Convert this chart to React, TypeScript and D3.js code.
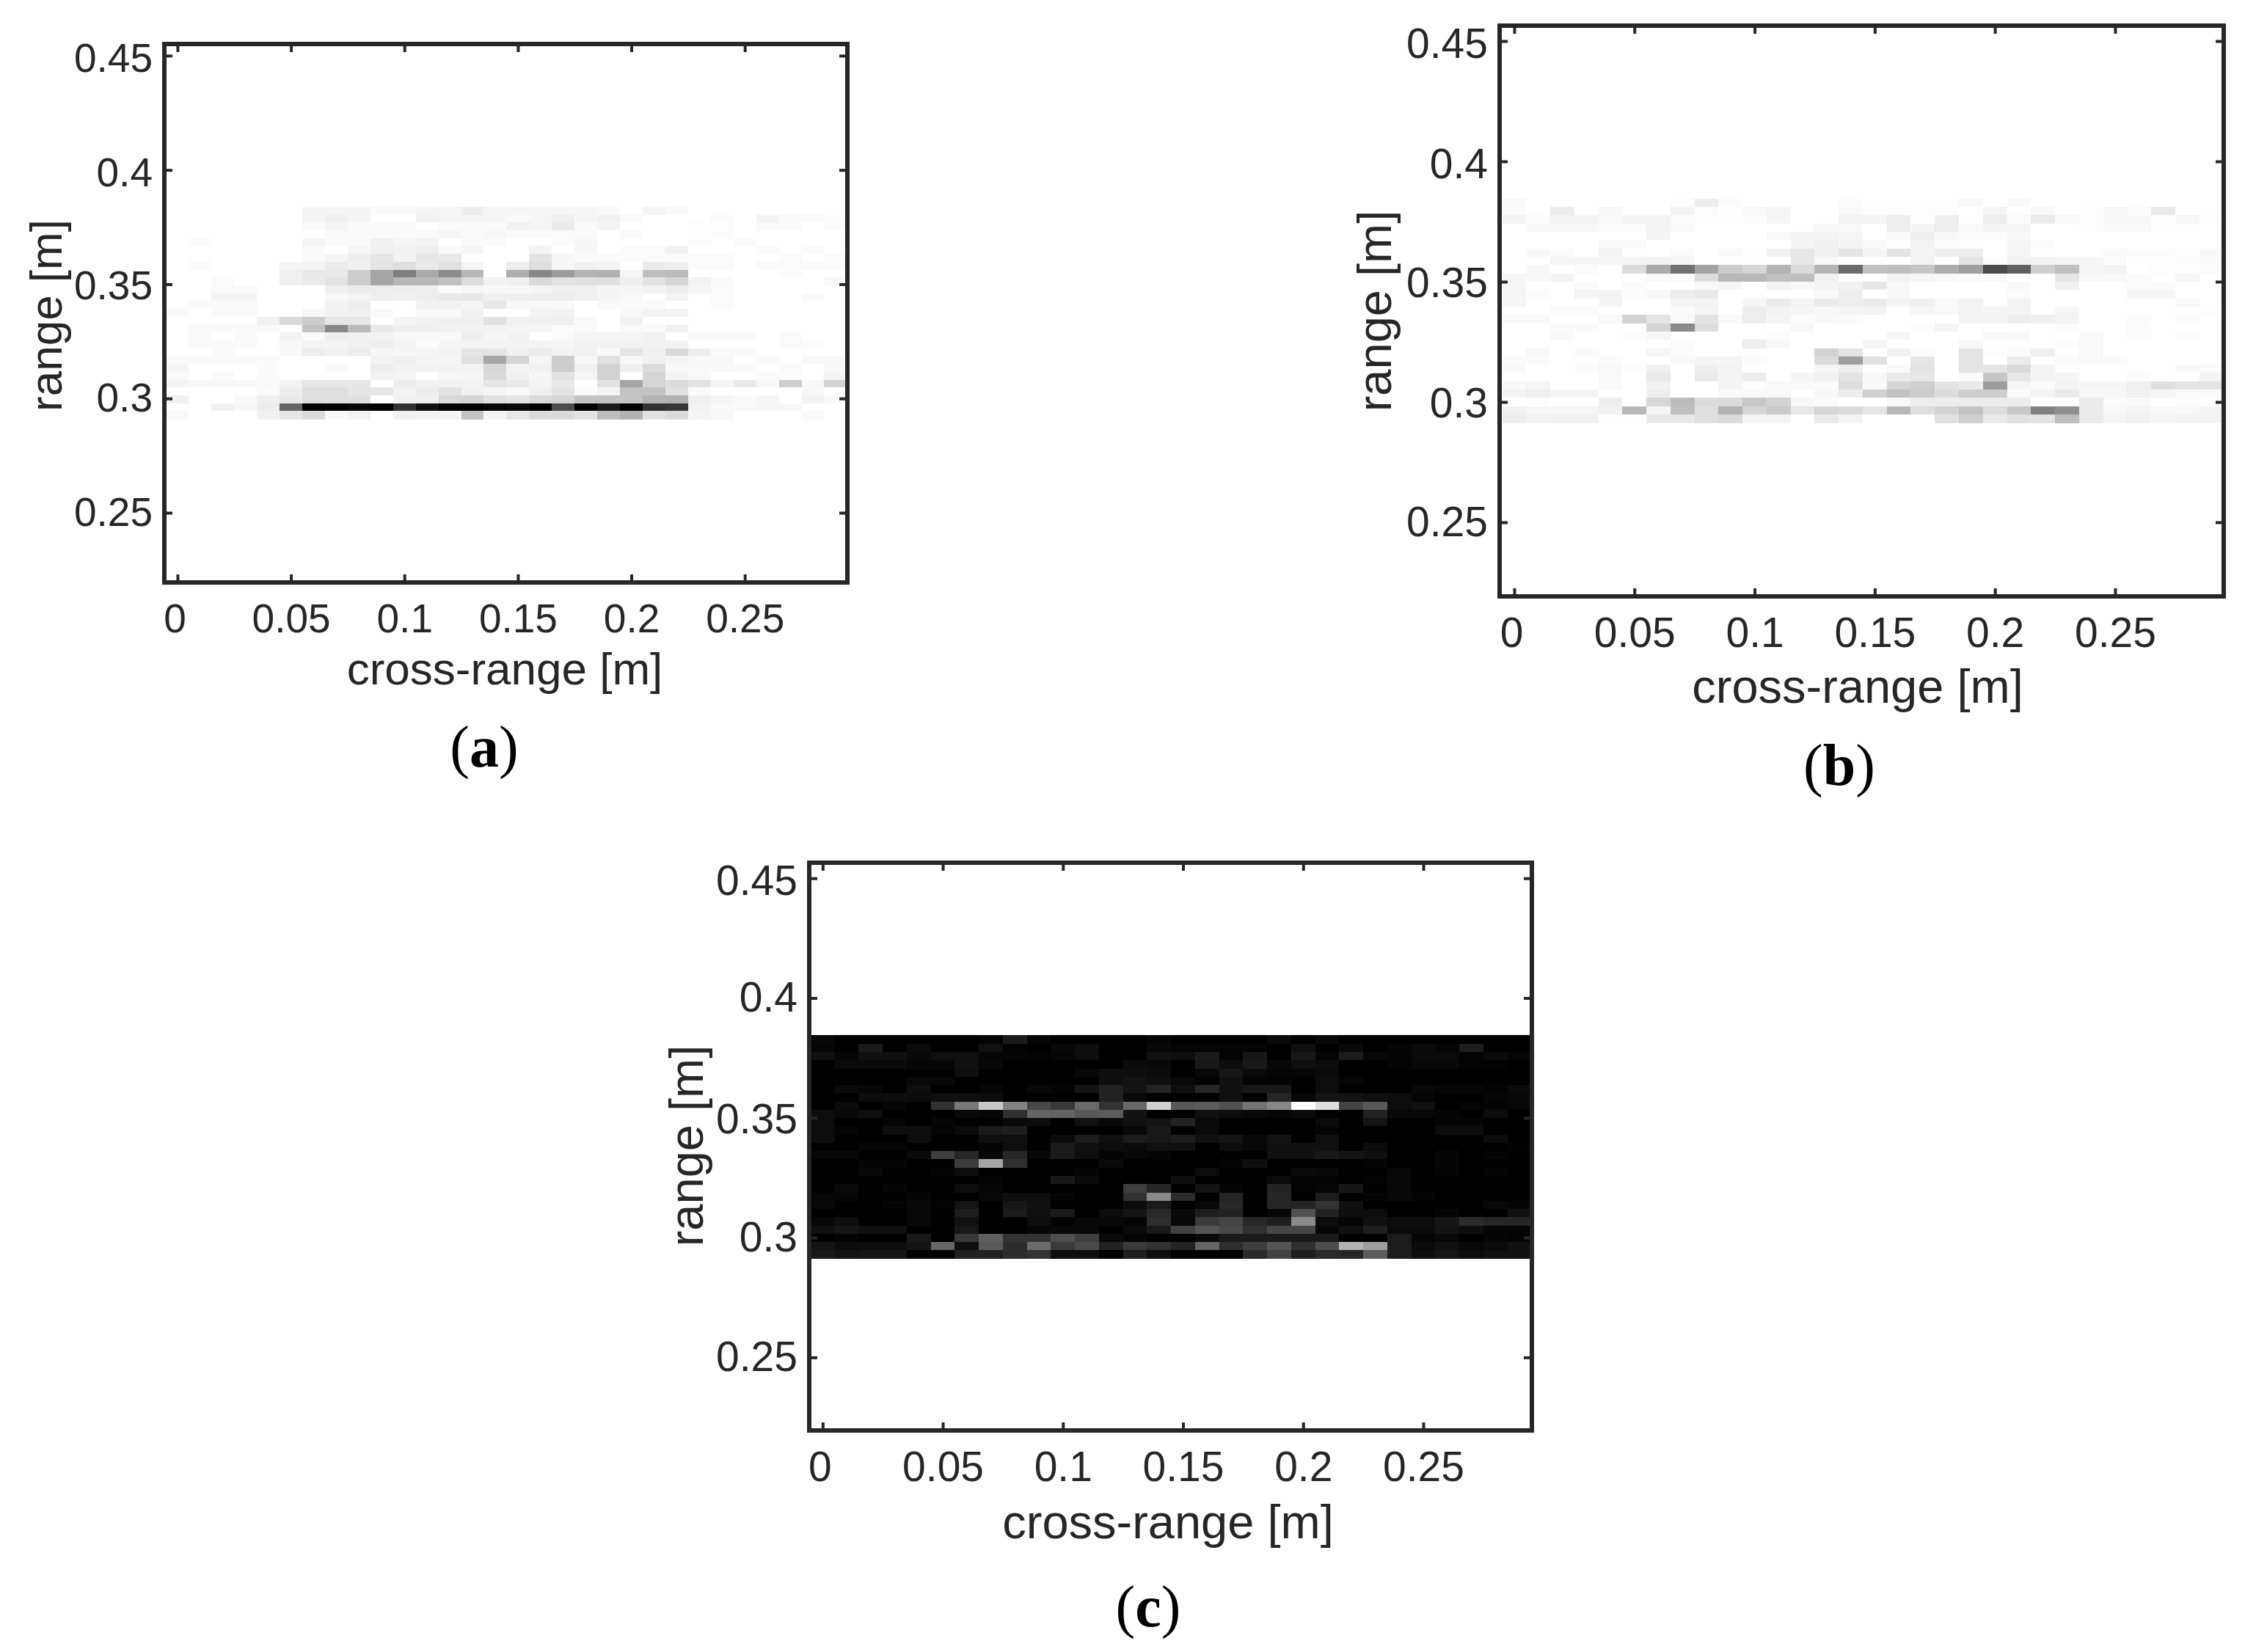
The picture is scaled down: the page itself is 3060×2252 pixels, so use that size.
import React, { useEffect, useRef } from 'react';
import * as d3 from 'd3';

const xTicks = [0, 0.05, 0.1, 0.15, 0.2, 0.25];
const yTicks = [0.25, 0.3, 0.35, 0.4, 0.45];
const crossRange = d3.range(30).map(i => i * 0.01);
const rangeBins = d3.range(27);

// magnitudes, darkness 0-255
const magnitudeA = [
  [0,0,0,0,0,0,10,10,10,5,5,9,9,18,9,9,9,9,9,5,0,10,5,0,0,0,0,0,0,0],
  [0,0,0,0,0,0,10,15,10,0,0,13,9,9,9,5,9,15,9,13,5,0,0,0,4,0,11,5,5,3],
  [0,0,0,0,0,0,5,10,5,5,5,0,5,5,5,12,9,20,5,10,0,0,0,3,3,0,5,5,0,4],
  [0,0,0,0,0,0,0,5,5,5,5,5,9,5,8,5,5,5,5,0,5,0,0,3,3,0,0,0,0,0],
  [0,5,0,0,0,0,10,5,5,14,10,12,0,5,5,0,0,4,8,0,0,0,0,3,0,4,0,0,0,0],
  [0,0,0,0,0,0,5,0,9,14,13,16,5,9,0,0,11,0,8,0,4,4,13,0,0,0,4,0,4,0],
  [0,0,0,0,0,0,5,10,17,25,13,24,22,0,0,0,28,8,5,5,4,4,4,4,4,0,0,4,0,4],
  [0,5,0,0,0,11,11,20,14,27,32,21,30,10,0,18,32,8,14,11,0,19,15,4,4,0,5,5,4,4],
  [0,0,0,0,0,15,22,22,50,90,128,85,115,72,0,82,120,100,75,78,10,65,68,0,0,0,0,4,0,0],
  [0,0,4,0,0,15,20,27,50,90,72,72,62,35,13,16,38,28,30,30,16,28,40,13,5,0,0,0,0,6],
  [0,0,5,5,0,0,0,15,18,18,17,17,5,9,7,6,10,15,15,10,9,13,17,10,5,0,0,0,0,0],
  [0,0,11,11,0,0,0,7,11,17,14,17,22,23,15,16,18,18,14,10,6,0,12,0,4,0,0,0,5,0],
  [0,5,5,5,0,0,0,12,17,0,0,13,13,10,24,7,6,6,0,6,5,5,0,0,4,0,0,0,0,0],
  [5,0,5,5,0,0,7,13,15,6,0,6,6,14,0,0,11,13,0,0,6,11,11,0,0,0,0,0,0,0],
  [0,0,0,0,14,38,50,25,25,0,10,14,14,14,30,15,15,15,6,0,14,0,0,0,0,0,0,0,0,0],
  [0,5,5,5,5,0,62,120,70,22,16,16,13,13,13,11,10,4,5,0,6,5,14,0,0,0,0,0,0,0],
  [0,5,0,5,0,11,5,16,14,12,7,7,6,16,10,13,0,5,10,10,10,14,0,5,5,5,0,4,0,0],
  [0,5,5,5,0,7,11,11,14,16,10,4,10,11,12,12,12,9,13,13,13,13,13,0,0,0,0,4,3,0],
  [0,0,5,0,0,7,18,14,18,8,9,9,12,26,26,14,20,12,14,6,26,15,38,18,5,5,0,0,0,0],
  [5,5,5,5,5,0,0,0,0,11,15,11,10,30,88,42,10,50,8,30,8,14,10,7,7,0,5,0,7,7],
  [10,0,0,0,5,0,0,4,0,17,13,13,12,12,40,12,14,50,14,45,15,35,7,6,6,5,0,4,0,6],
  [6,0,5,0,5,0,0,0,0,13,11,0,8,10,38,15,10,28,10,45,0,42,11,6,0,0,4,4,0,10],
  [10,7,7,7,6,12,24,24,24,0,18,13,13,12,25,22,11,22,0,28,90,42,35,28,11,22,6,50,7,45],
  [0,0,0,0,5,18,32,32,25,25,12,18,28,14,10,6,15,28,4,10,60,60,30,4,0,0,0,0,7,0],
  [14,0,0,5,15,22,32,32,32,0,14,15,38,42,30,26,38,42,60,60,60,75,78,15,10,6,9,0,12,5],
  [0,0,14,8,18,155,255,252,248,255,205,240,255,255,248,245,255,180,255,230,255,205,200,12,6,6,8,8,0,0],
  [5,0,0,0,14,26,35,6,12,0,14,12,10,60,12,24,36,36,28,65,78,30,36,10,7,0,0,0,5,0],
];

// magnitudes, same image drawn in (b) on the scale of (a)
const magnitudeC = [
  [8,0,0,0,0,0,0,4,26,5,0,0,0,0,5,0,0,0,0,10,0,8,0,0,0,0,0,0,0,0],
  [5,0,26,0,10,0,0,16,4,0,8,12,0,0,8,4,4,4,4,0,16,0,8,0,4,10,5,30,0,0],
  [16,5,16,16,8,15,15,6,4,3,6,12,0,0,16,14,26,3,22,0,24,5,28,8,4,10,10,3,10,4],
  [0,10,10,10,6,6,16,8,0,0,0,0,0,10,8,0,24,12,24,8,14,12,0,0,4,8,8,3,3,0],
  [0,0,0,0,0,0,14,0,0,0,0,8,14,14,12,0,8,22,10,5,5,10,0,0,0,0,0,0,0,0],
  [0,0,0,0,8,8,0,0,0,0,0,0,14,20,15,8,3,16,5,3,0,12,5,0,0,0,0,0,0,0],
  [0,10,6,0,14,0,0,5,0,8,4,20,34,20,36,14,38,16,24,24,0,12,0,0,0,8,5,5,3,10],
  [0,0,12,12,12,14,15,12,0,0,0,0,34,10,0,0,0,16,0,38,6,20,18,14,12,5,0,0,5,8],
  [0,10,0,5,0,50,120,200,130,72,58,105,50,105,208,88,92,80,115,135,255,222,68,88,12,16,0,4,4,6],
  [12,8,14,0,0,0,8,5,48,100,100,88,92,18,0,0,16,12,8,5,10,0,0,34,8,8,5,0,12,0],
  [12,0,0,5,0,5,0,0,8,12,0,16,8,16,20,34,10,0,0,0,0,10,0,20,0,0,5,5,0,0],
  [12,4,0,14,14,4,10,26,30,0,0,0,0,8,24,0,10,0,0,0,0,5,0,0,0,0,12,12,0,0],
  [12,0,0,0,12,0,0,15,15,0,12,28,16,28,24,28,16,20,8,18,0,16,0,0,0,0,0,0,10,0],
  [0,0,5,5,0,0,0,5,14,0,26,16,12,10,16,16,0,12,8,16,16,16,0,12,0,0,0,0,0,3],
  [8,8,0,0,10,62,38,8,38,8,26,14,5,8,5,0,0,0,0,16,16,24,20,16,0,0,5,0,4,0],
  [0,0,5,5,0,0,60,165,48,0,0,0,10,0,0,0,0,4,14,0,0,0,0,4,0,0,5,0,0,0],
  [0,0,8,0,0,4,12,0,0,0,0,4,0,0,0,0,12,0,0,0,10,8,0,0,8,0,4,0,4,0],
  [0,0,0,0,0,0,0,4,0,0,24,10,0,0,0,14,0,0,0,10,3,3,0,3,8,0,0,0,0,0],
  [0,10,0,5,0,0,12,6,0,0,0,0,0,62,38,0,20,4,0,36,3,6,22,0,8,0,0,0,0,0],
  [6,6,0,0,5,0,0,8,14,14,4,0,0,50,138,44,0,36,0,38,0,28,0,4,8,5,0,0,0,0],
  [8,0,0,4,8,3,20,0,22,16,0,0,0,12,26,0,8,40,0,38,36,52,16,0,0,0,0,0,8,5],
  [0,0,0,0,8,0,30,0,28,16,26,0,12,20,40,10,30,34,0,6,80,34,14,12,0,0,4,0,0,16],
  [8,14,0,0,8,0,18,0,0,14,3,8,8,5,46,8,58,68,40,30,138,12,5,16,12,12,22,44,38,38],
  [16,22,16,16,0,0,24,0,0,6,8,8,0,10,26,66,85,72,48,70,70,6,16,30,10,10,20,14,5,5],
  [0,4,0,0,24,0,56,95,50,50,78,62,10,5,0,0,10,26,26,26,26,26,0,0,28,5,8,0,6,4],
  [20,12,12,12,20,102,14,90,44,108,58,74,34,58,50,36,100,46,62,84,48,78,178,158,28,10,16,8,10,16],
  [24,18,20,20,2,2,32,32,44,50,14,14,0,30,14,0,0,0,42,66,30,42,38,92,28,14,20,12,16,16],
];

const INK = '#262626';
const SANS = '"Liberation Sans", Arial, sans-serif';
const SERIF = '"Liberation Serif", serif';

// colour scales: (a) and (b) white to black, (b) on the wider scale, (c) black to white
const colorA = d3.scaleLinear<string>().domain([0, 255]).range(['#ffffff', '#000000']);
const colorB = d3.scaleLinear<string>().domain([0, 359]).range(['#ffffff', '#000000']);
const colorC = d3.scaleLinear<string>().domain([0, 255]).range(['#000000', '#ffffff']);

const panels = [
  { id: 'a', values: magnitudeA, color: colorA, left: 224, right: 1155, top: 60, bottom: 794, xd: [-0.0058, 0.2952], yd: [0.2195, 0.4551], rowTop: 0.3839, rowStep: 0.00344, tickFont: 55, labelFont: 62, capX: 660, capY: 1045, xLabelX: 688, xLabelY: 933, yLabelX: 84, yLabelY: 430, nudge: [0, 0, 2, 4, 4] },
  { id: 'b', values: magnitudeC, color: colorB, left: 2044, right: 3031, top: 35, bottom: 813, xd: [-0.0061, 0.2952], yd: [0.2192, 0.4564], rowTop: 0.3845, rowStep: 0.00345, tickFont: 57, labelFont: 65, capX: 2507, capY: 1070, xLabelX: 2532, xLabelY: 958, yLabelX: 1896, yLabelY: 424, nudge: [0, 2, 2, 4, 4] },
  { id: 'c', values: magnitudeC, color: colorC, left: 1103, right: 2088, top: 1176, bottom: 1950, xd: [-0.0056, 0.2952], yd: [0.2195, 0.4565], rowTop: 0.3844, rowStep: 0.00345, tickFont: 57, labelFont: 65, capX: 1565, capY: 2217, xLabelX: 1592, xLabelY: 2097, yLabelX: 958, yLabelY: 1562, nudge: [0, 0, 2, 0, 4] },
];

const App: React.FC = () => {
  const svgRef = useRef<SVGSVGElement | null>(null);

  useEffect(() => {
    if (!svgRef.current) return;
    const svg = d3.select(svgRef.current);
    svg.selectAll('*').remove();

    panels.forEach(p => {
      const x = d3.scaleLinear().domain(p.xd).range([p.left, p.right]);
      const y = d3.scaleLinear().domain(p.yd).range([p.bottom, p.top]);
      const g = svg.append('g').attr('class', `panel-${p.id}`);

      // Heat cells
      rangeBins.forEach(r => {
        const yTop = p.rowTop - r * p.rowStep;
        g.append('g')
          .selectAll('rect')
          .data(p.values[r])
          .enter()
          .append('rect')
          .attr('x', (_, i) => x(crossRange[i] - 0.005))
          .attr('y', y(yTop))
          .attr('width', (_, i) => x(crossRange[i] + 0.005) - x(crossRange[i] - 0.005) + 0.5)
          .attr('height', y(yTop - p.rowStep) - y(yTop) + 0.5)
          .attr('fill', d => p.color(d))
          .attr('shape-rendering', 'crispEdges');
      });

      // Axes, ticks point inward on all four sides
      const fmt = (d: d3.NumberValue) => String(+d);
      const bottom = d3.axisBottom(x).tickValues(xTicks).tickSizeInner(-11).tickSizeOuter(0).tickPadding(29).tickFormat(fmt);
      const top = d3.axisTop(x).tickValues(xTicks).tickSizeInner(-11).tickSizeOuter(0).tickFormat(() => '');
      const left = d3.axisLeft(y).tickValues(yTicks).tickSizeInner(-11).tickSizeOuter(0).tickPadding(16).tickFormat(fmt);
      const right = d3.axisRight(y).tickValues(yTicks).tickSizeInner(-11).tickSizeOuter(0).tickFormat(() => '');

      const bottomG = g.append('g').attr('transform', `translate(0,${p.bottom})`).call(bottom);
      const leftG = g.append('g').attr('transform', `translate(${p.left},0)`).call(left);
      const axes = [
        bottomG,
        g.append('g').attr('transform', `translate(0,${p.top})`).call(top),
        leftG,
        g.append('g').attr('transform', `translate(${p.right},0)`).call(right),
      ];
      axes.forEach(a => {
        a.select('.domain').remove();
        a.selectAll('line').attr('stroke', INK).attr('stroke-width', 4);
        a.selectAll('text')
          .attr('fill', INK)
          .style('font-family', SANS)
          .style('font-size', `${p.tickFont}px`);
      });

      // Tick text sits a little off the ticks in the source figure
      bottomG.selectAll<SVGTextElement, number>('text')
        .attr('transform', d => (d === 0 ? 'translate(-4,0)' : null));
      leftG.selectAll<SVGTextElement, number>('text')
        .attr('transform', (_, i) => `translate(0,${p.nudge[i]})`);

      // Frame
      g.append('rect')
        .attr('x', p.left)
        .attr('y', p.top)
        .attr('width', p.right - p.left)
        .attr('height', p.bottom - p.top)
        .attr('fill', 'none')
        .attr('stroke', INK)
        .attr('stroke-width', 6);

      // Labels
      g.append('text')
        .attr('x', p.xLabelX)
        .attr('y', p.xLabelY)
        .attr('text-anchor', 'middle')
        .attr('fill', INK)
        .style('font-family', SANS)
        .style('font-size', `${p.labelFont}px`)
        .text('cross-range [m]');

      g.append('text')
        .attr('transform', `translate(${p.yLabelX},${p.yLabelY}) rotate(-90)`)
        .attr('text-anchor', 'middle')
        .attr('fill', INK)
        .style('font-family', SANS)
        .style('font-size', `${p.labelFont}px`)
        .text('range [m]');

      // Caption
      const cap = g.append('text')
        .attr('x', p.capX)
        .attr('y', p.capY)
        .attr('text-anchor', 'middle')
        .attr('fill', '#000000')
        .style('font-family', SERIF)
        .style('font-size', '80px');
      cap.append('tspan').text('(');
      cap.append('tspan').style('font-weight', 'bold').text(p.id);
      cap.append('tspan').text(')');
    });
  }, []);

  return (
    <svg
      ref={svgRef}
      width={3060}
      height={2252}
      viewBox="0 0 3060 2252"
      style={{ position: 'absolute', left: 0, top: 0, background: '#ffffff' }}
    />
  );
};

export default App;
